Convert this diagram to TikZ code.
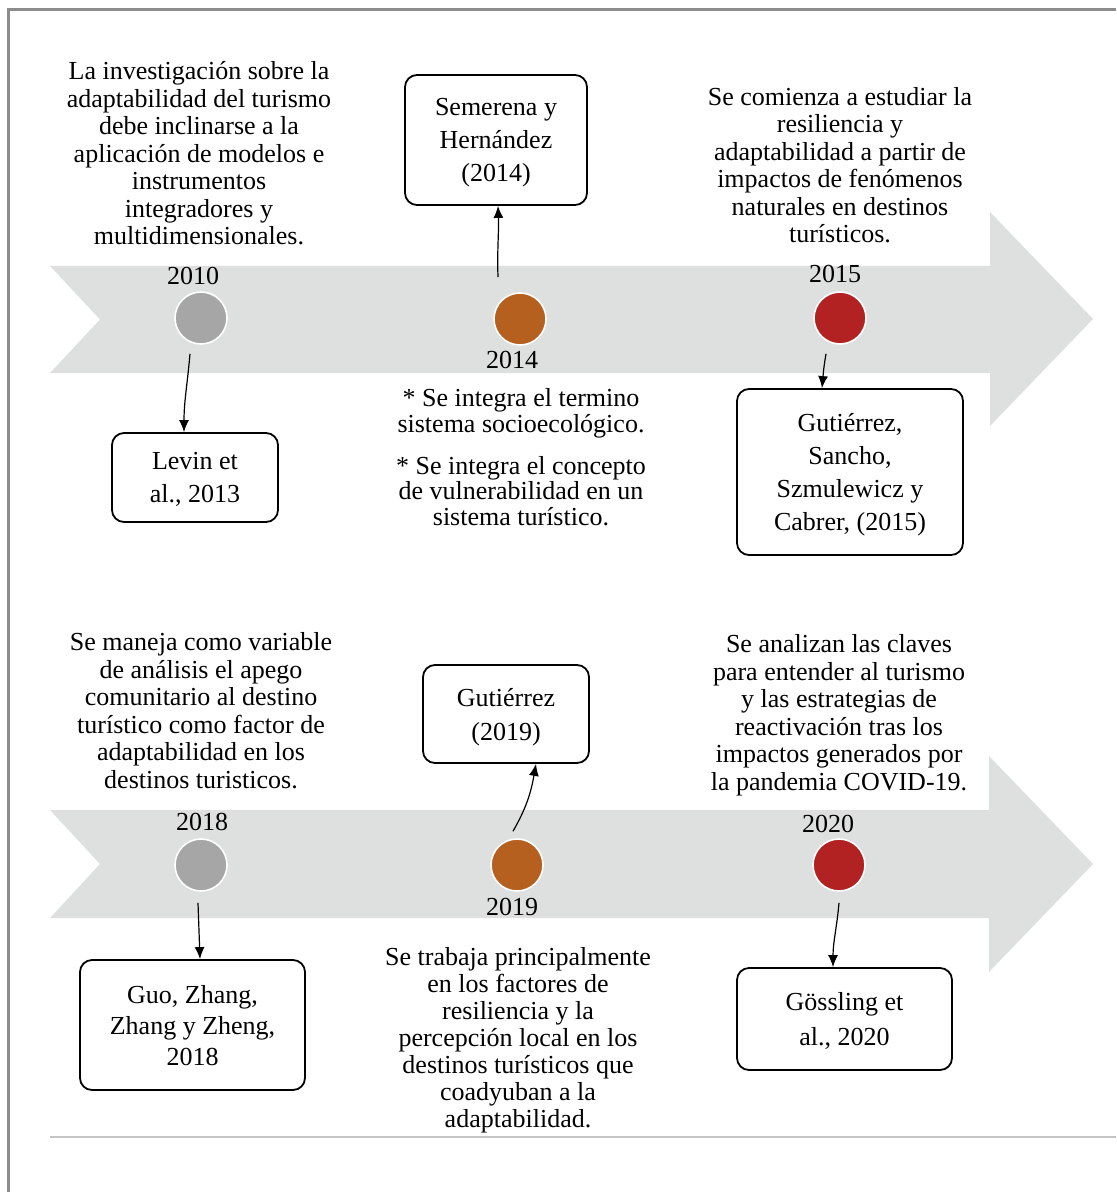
\documentclass[tikz,border=0pt]{standalone}
\usepackage{fontspec}
\setmainfont{Liberation Serif}
\usetikzlibrary{arrows.meta}
\definecolor{bandgray}{HTML}{DEDFDF}
\definecolor{dotgray}{HTML}{A6A6A6}
\definecolor{dotorange}{HTML}{B5601E}
\definecolor{dotred}{HTML}{B22222}
\definecolor{framegray}{HTML}{8C8C8C}
\definecolor{rulegray}{HTML}{C4C4C4}

\begin{document}
\begin{tikzpicture}[x=0.5pt,y=-0.5pt,
    txt/.style={align=center,anchor=base,inner sep=0pt,font=\fontsize{13}{13.75}\selectfont},
    yr/.style={anchor=base,inner sep=0pt,font=\fontsize{13}{13.75}\selectfont},
    dot/.style={circle,draw=white,line width=0.8pt,minimum size=26pt,inner sep=0pt},
    refbox/.style={draw,rounded corners=6pt,line width=0.9pt,align=center,inner sep=0pt,
      text depth=-7.5pt,font=\fontsize{13}{16.5}\selectfont},
    conn/.style={-{Latex[length=6pt,width=5pt]},line width=0.6pt}]
    \useasboundingbox (0,0) rectangle (1116,1192);
    % timeline bands
    \fill[bandgray] (50,266) -- (990,266) -- (990,212) -- (1093,319) -- (990,426) -- (990,373) -- (50,373) -- (100,319.5) -- cycle;
    \fill[bandgray] (50,810) -- (989,810) -- (989,756) -- (1093,864) -- (989,972) -- (989,918) -- (50,918) -- (100,864) -- cycle;
    % frame
    \draw[framegray,line width=1.5pt] (8,1192) -- (8,10) -- (1116,10);
    \draw[rulegray,line width=0.8pt] (50,1137) -- (1116,1137);

    % upper timeline (text nodes sit on their last line)
    \node[txt] (t2010) at (199,245) {La investigación sobre la\\adaptabilidad del turismo\\debe inclinarse a la\\aplicación de modelos e\\instrumentos\\integradores y\\multidimensionales.};
    \node[txt,font=\fontsize{13}{12.75}\selectfont] (t2014) at (521,525) {* Se integra el termino\\sistema socioecológico.\\[8.25pt]* Se integra el concepto\\de vulnerabilidad en un\\sistema turístico.};
    \node[txt] (t2015) at (840,243) {Se comienza a estudiar la\\resiliencia y\\adaptabilidad a partir de\\impactos de fenómenos\\naturales en destinos\\turísticos.};
    \node[yr] (y2010) at (193,285) {2010};
    \node[yr] (y2014) at (512,368) {2014};
    \node[yr] (y2015) at (835,283) {2015};
    \node[dot,fill=dotgray] (c2010) at (201,318) {};
    \node[dot,fill=dotorange] (c2014) at (520,319) {};
    \node[dot,fill=dotred] (c2015) at (840,318) {};
    \node[refbox,minimum width=91pt,minimum height=65pt] (sem) at (496,140) {Semerena y\\Hernández\\(2014)};
    \node[refbox,minimum width=83pt,minimum height=44.5pt] (levin) at (195,477.5) {Levin et\\al., 2013};
    \node[refbox,minimum width=113pt,minimum height=83pt] (gss) at (850,472) {Gutiérrez,\\Sancho,\\Szmulewicz y\\Cabrer, (2015)};
    \draw[conn] ([xshift=-5.5pt,yshift=-4.5pt]c2010.south) to[out=-95,in=90] ([xshift=-5.5pt]levin.north);
    \draw[conn] ([xshift=-11pt,yshift=7.5pt]c2014.north) to[out=92,in=-88] ([xshift=1pt]sem.south);
    \draw[conn] ([xshift=-7pt,yshift=-4.5pt]c2015.south) to[out=-100,in=85] ([xshift=-14pt]gss.north);

    % lower timeline
    \node[txt] (t2018) at (201,788) {Se maneja como variable\\de análisis el apego\\comunitario al destino\\turístico como factor de\\adaptabilidad en los\\destinos turisticos.};
    \node[txt,font=\fontsize{13}{13.5}\selectfont] (t2019) at (518,1127) {Se trabaja principalmente\\en los factores de\\resiliencia y la\\percepción local en los\\destinos turísticos que\\coadyuban a la\\adaptabilidad.};
    \node[txt] (t2020) at (839,790) {Se analizan las claves\\para entender al turismo\\y las estrategias de\\reactivación tras los\\impactos generados por\\la pandemia COVID-19.};
    \node[yr] (y2018) at (202,830) {2018};
    \node[yr] (y2019) at (512,915) {2019};
    \node[yr] (y2020) at (828,832) {2020};
    \node[dot,fill=dotgray] (c2018) at (201,865) {};
    \node[dot,fill=dotorange] (c2019) at (517,865) {};
    \node[dot,fill=dotred] (c2020) at (839,865) {};
    \node[refbox,minimum width=112.5pt,minimum height=65pt,font=\fontsize{13}{15.5}\selectfont] (guo) at (192.5,1025) {Guo, Zhang,\\Zhang y Zheng,\\2018};
    \node[refbox,minimum width=83pt,minimum height=49pt,font=\fontsize{13}{17}\selectfont] (gut19) at (506,714) {Gutiérrez\\(2019)};
    \node[refbox,minimum width=107.5pt,minimum height=51pt,font=\fontsize{13}{17.5}\selectfont] (goss) at (844.5,1019) {Gössling et\\al., 2020};
    \draw[conn] ([xshift=-1.5pt,yshift=-5.5pt]c2018.south) to[out=-88,in=92] ([xshift=3.75pt]guo.north);
    \draw[conn] ([xshift=-2pt,yshift=3.5pt]c2019.north) to[out=60,in=-100] ([xshift=15pt]gut19.south);
    \draw[conn] ([yshift=-5.5pt]c2020.south) to[out=-95,in=90] ([xshift=-5.75pt]goss.north);
\end{tikzpicture}
\end{document}
